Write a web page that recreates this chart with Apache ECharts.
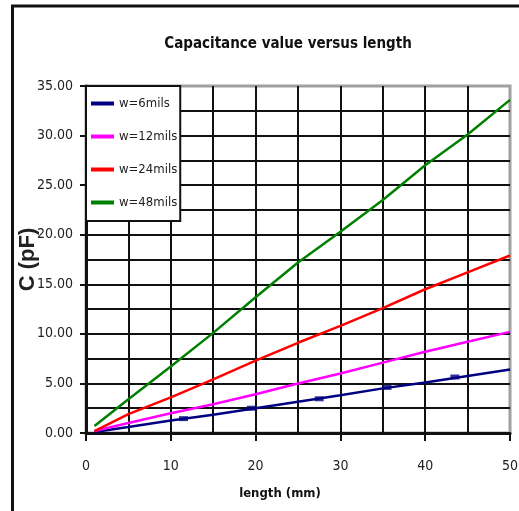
<!DOCTYPE html>
<html>
<head>
<meta charset="utf-8">
<script src="https://cdn.jsdelivr.net/npm/echarts@6/dist/echarts.min.js"></script>
<style>
html,body{margin:0;padding:0;background:#fff;}
#chart{width:519px;height:511px;}
</style>
</head>
<body>
<div id="chart"></div>
<script>
var lengths = [1, 5, 10, 15, 20, 25, 30, 35, 40, 45, 50];
var w6 = [0.1, 0.6, 1.25, 1.85, 2.5, 3.15, 3.8, 4.5, 5.1, 5.75, 6.4];
var w12 = [0.2, 1.0, 2.0, 2.9, 3.9, 5.0, 6.0, 7.1, 8.2, 9.2, 10.2];
var w24 = [0.2, 1.9, 3.6, 5.4, 7.3, 9.1, 10.8, 12.6, 14.5, 16.2, 17.9];
var w48 = [0.7, 3.4, 6.7, 10.1, 13.7, 17.2, 20.3, 23.5, 27.0, 30.1, 33.6];
var w6MarkX = [11.5, 19.5, 27.5, 35.5, 43.5];
var w6MarkY = [1.45, 2.5, 3.45, 4.6, 5.65];
var seriesNames = ['w=6mils', 'w=12mils', 'w=24mils', 'w=48mils'];
var seriesColors = ['#000080', '#ff00ff', '#ff0000', '#008000'];
var xTicks = [0, 10, 20, 30, 40, 50];
var yTicks = [0, 5, 10, 15, 20, 25, 30, 35];

var NARROW = "'DejaVu Sans Condensed', 'Liberation Sans Narrow', 'Arial Narrow', sans-serif";

function pairs(xs, ys) { return xs.map(function (x, i) { return [x, ys[i]]; }); }

var allY = [w6, w12, w24, w48];
var series = seriesNames.map(function (n, i) {
  return {
    name: n, type: 'line', data: pairs(lengths, allY[i]),
    symbol: 'none', lineStyle: { color: seriesColors[i], width: 2.5 },
    itemStyle: { color: seriesColors[i] }, z: 3 + i
  };
});
series.push({
  name: seriesNames[0], type: 'scatter', data: pairs(w6MarkX, w6MarkY),
  symbol: 'rect', symbolSize: [9, 5], itemStyle: { color: seriesColors[0] }, z: 3
});

var chart = echarts.init(document.getElementById('chart'));
chart.setOption({
  animation: false,
  backgroundColor: '#fff',
  title: {
    text: 'Capacitance value versus length',
    left: 283, top: 32, textAlign: 'center',
    textStyle: { fontFamily: NARROW, fontWeight: 'bold', fontSize: 15, color: '#111' }
  },
  grid: { left: 86, right: 9, top: 86, bottom: 78, outerBoundsMode: 'none', containLabel: false,
    show: true, borderColor: '#a0a0a0', borderWidth: 3, backgroundColor: '#fff' },
  legend: {
    data: seriesNames,
    orient: 'vertical', left: 86, top: 86,
    icon: 'rect', itemWidth: 23, itemHeight: 4, itemGap: 20,
    padding: [11, 3, 12, 5],
    backgroundColor: '#fff', borderColor: '#111', borderWidth: 2,
    textStyle: { fontFamily: NARROW, fontSize: 13, color: '#222' }
  },
  xAxis: {
    type: 'value', min: xTicks[0], max: xTicks[xTicks.length - 1], interval: 10,
    name: 'length (mm)', nameLocation: 'middle', nameGap: 54, nameMoveOverlap: false,
    nameTextStyle: { fontFamily: NARROW, fontWeight: 'bold', fontSize: 13, color: '#111', padding: [0, 36, 0, 0] },
    axisLine: { lineStyle: { color: '#111', width: 3 } },
    axisTick: { show: true, length: 8, lineStyle: { color: '#111', width: 2 } },
    axisLabel: { margin: 26, fontFamily: NARROW, fontSize: 14, color: '#222' },
    splitLine: { show: true, showMaxLine: false, lineStyle: { color: '#111', width: 2 } },
    minorTick: { show: false, splitNumber: 2 },
    minorSplitLine: { show: true, lineStyle: { color: '#111', width: 2 } }
  },
  yAxis: {
    type: 'value', min: yTicks[0], max: yTicks[yTicks.length - 1], interval: 5,
    name: 'C (pF)', nameLocation: 'middle', nameGap: 47, nameRotate: 90, nameMoveOverlap: false,
    nameTextStyle: { fontFamily: 'Liberation Sans', fontWeight: 'bold', fontSize: 22, color: '#222' },
    axisLine: { show: true, lineStyle: { color: '#111', width: 3 } },
    axisTick: { show: true, length: 6, lineStyle: { color: '#111', width: 2 } },
    axisLabel: { margin: 13, fontFamily: NARROW, fontSize: 14, color: '#222',
      formatter: function (v) { return v.toFixed(2); } },
    splitLine: { show: true, showMaxLine: false, lineStyle: { color: '#111', width: 2 } },
    minorTick: { show: false, splitNumber: 2 },
    minorSplitLine: { show: true, lineStyle: { color: '#111', width: 2 } }
  },
  graphic: [{
    type: 'polyline', z: 100,
    shape: { points: [[12.5, 511], [12.5, 6], [519, 6]] },
    style: { stroke: '#111', lineWidth: 3, fill: null }
  }],
  series: series
});
</script>
</body>
</html>
